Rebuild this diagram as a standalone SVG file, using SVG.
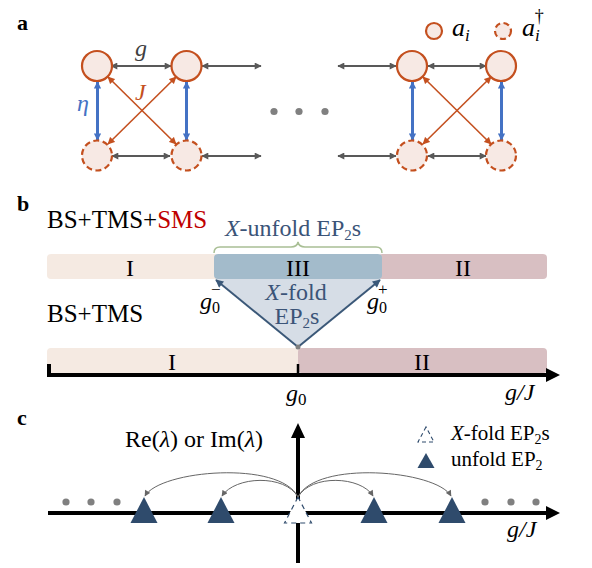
<svg xmlns="http://www.w3.org/2000/svg" width="592" height="568" viewBox="0 0 592 568">
<style>
text{font-family:"Liberation Serif","Times New Roman",serif;}
.lbl{font-size:22px;font-weight:bold;fill:#000;}
.nd{fill:#F7E9E4;stroke:#C4501F;stroke-width:2.2;}
.ndd{fill:#F7E9E4;stroke:#C4501F;stroke-width:2.2;stroke-dasharray:6 3.5;}
.gl{stroke:#595959;stroke-width:2;fill:none;marker-start:url(#ag);marker-end:url(#ag);}
.bl{stroke:#4472C4;stroke-width:3;fill:none;marker-start:url(#ab);marker-end:url(#ab);}
.ol{stroke:#C4501F;stroke-width:1.6;fill:none;marker-start:url(#ao);marker-end:url(#ao);}
.t24{font-size:24px;}
.dk{fill:#3B5478;}
.dot{fill:#808080;}
.tri{fill:#2F4B6C;}
.arc{stroke:#666;stroke-width:1;fill:none;marker-end:url(#aa);}
</style>
<defs>
<marker id="ag" viewBox="0 0 10 10" refX="9" refY="5" markerWidth="4" markerHeight="3.5" orient="auto-start-reverse"><path d="M0,0 L10,5 L0,10 z" fill="#595959"/></marker>
<marker id="ab" viewBox="0 0 10 10" refX="9" refY="5" markerWidth="2.6" markerHeight="2.4" orient="auto-start-reverse"><path d="M0,0 L10,5 L0,10 z" fill="#4472C4"/></marker>
<marker id="ao" viewBox="0 0 10 10" refX="9" refY="5" markerWidth="5" markerHeight="4.5" orient="auto-start-reverse"><path d="M0,0 L10,5 L0,10 z" fill="#C4501F"/></marker>
<marker id="ad" viewBox="0 0 10 10" refX="9" refY="5" markerWidth="4.5" markerHeight="4" orient="auto-start-reverse"><path d="M0,0 L10,5 L0,10 z" fill="#3B5878"/></marker>
<marker id="aa" viewBox="0 0 10 10" refX="9" refY="5" markerWidth="7" markerHeight="6" orient="auto" markerUnits="userSpaceOnUse"><path d="M0,0 L10,5 L0,10 z" fill="#666"/></marker>
</defs>

<!-- Panel a -->
<text class="lbl" x="17" y="30">a</text>
<g id="legend-a">
  <circle cx="434" cy="31" r="8" class="nd" stroke-width="1.8"/>
  <text x="452" y="36" font-size="26" font-style="italic">a<tspan font-size="17" dy="5">i</tspan></text>
  <circle cx="503" cy="31" r="8" class="ndd" stroke-width="1.8" stroke-dasharray="5 3"/>
  <text x="522" y="36" font-size="26" font-style="italic">a<tspan font-size="17" dy="5">i</tspan><tspan font-size="18" font-style="normal" dx="-5" dy="-19">†</tspan></text>
</g>
<g id="connectors-a">
  <line class="gl" x1="111" y1="66" x2="171" y2="66"/>
  <line class="gl" x1="202" y1="66" x2="261" y2="66"/>
  <line class="gl" x1="112" y1="156" x2="170" y2="156"/>
  <line class="gl" x1="202" y1="156" x2="261" y2="156"/>
  <line class="gl" x1="338" y1="66" x2="396" y2="66"/>
  <line class="gl" x1="428" y1="66" x2="486" y2="66"/>
  <line class="gl" x1="338" y1="156" x2="396" y2="156"/>
  <line class="gl" x1="428" y1="156" x2="486" y2="156"/>
  <line class="bl" x1="97.5" y1="82" x2="97.5" y2="140"/>
  <line class="bl" x1="186.5" y1="82" x2="186.5" y2="140"/>
  <line class="bl" x1="412.5" y1="82" x2="412.5" y2="140"/>
  <line class="bl" x1="501.5" y1="82" x2="501.5" y2="140"/>
  <line class="ol" x1="108" y1="77" x2="176" y2="144"/>
  <line class="ol" x1="108" y1="144" x2="176" y2="77"/>
  <line class="ol" x1="423" y1="77" x2="491" y2="144"/>
  <line class="ol" x1="423" y1="144" x2="491" y2="77"/>
</g>
<g id="node-a1-top"><circle cx="97" cy="66" r="15" class="nd"/></g>
<g id="node-a2-top"><circle cx="186.5" cy="66" r="15" class="nd"/></g>
<g id="node-a1-bot"><circle cx="97" cy="155.5" r="15" class="ndd"/></g>
<g id="node-a2-bot"><circle cx="186.5" cy="155.5" r="15" class="ndd"/></g>
<g id="node-aN1-top"><circle cx="412" cy="66" r="15" class="nd"/></g>
<g id="node-aN2-top"><circle cx="501" cy="66" r="15" class="nd"/></g>
<g id="node-aN1-bot"><circle cx="412" cy="155.5" r="15" class="ndd"/></g>
<g id="node-aN2-bot"><circle cx="501" cy="155.5" r="15" class="ndd"/></g>
<g id="labels-a">
  <text x="135" y="56" font-size="24" font-style="italic" fill="#404040">g</text>
  <text x="135" y="100" font-size="24" font-style="italic" fill="#C4501F">J</text>
  <text x="77" y="111" font-size="24" font-style="italic" fill="#4472C4">η</text>
  <circle cx="274" cy="111.5" r="3.6" class="dot"/>
  <circle cx="299" cy="111.5" r="3.6" class="dot"/>
  <circle cx="325" cy="111.5" r="3.6" class="dot"/>
</g>

<!-- Panel b -->
<text class="lbl" x="17" y="211">b</text>
<text x="47" y="228" font-size="25">BS+TMS+<tspan fill="#C00000">SMS</tspan></text>
<text x="293" y="236" class="t24 dk" text-anchor="middle"><tspan font-style="italic">X</tspan>-unfold EP<tspan font-size="15" dy="4">2</tspan><tspan dy="-4">s</tspan></text>
<path d="M214,253 Q214,247 220,247 L291,247 Q297,247 298,242 Q299,247 305,247 L376,247 Q382,247 382,253" stroke="#A9BF95" stroke-width="1.5" fill="none"/>
<g id="bar-top-I"><rect x="47" y="254" width="172" height="25" rx="4" fill="#F5EAE2"/><text x="130" y="276" class="t24" text-anchor="middle">I</text></g>
<g id="bar-top-II"><rect x="378" y="254" width="169" height="25" rx="4" fill="#D8BFC2"/><text x="463" y="276" class="t24" text-anchor="middle">II</text></g>
<g id="bar-top-III"><rect x="214" y="254" width="168" height="25" rx="4" fill="#A3BBCB"/><text x="298" y="276" class="t24" text-anchor="middle">III</text></g>
<g id="triangle-b">
  <polygon points="216,279 380,279 298,347" fill="#D6DDE6"/>
  <line x1="298" y1="347" x2="216" y2="280" stroke="#3B5878" stroke-width="2" marker-end="url(#ad)"/>
  <line x1="298" y1="347" x2="380" y2="280" stroke="#3B5878" stroke-width="2" marker-end="url(#ad)"/>
  <text x="296" y="300" class="t24 dk" text-anchor="middle"><tspan font-style="italic">X</tspan>-fold</text>
  <text x="297" y="324" class="t24 dk" text-anchor="middle">EP<tspan font-size="15" dy="4">2</tspan><tspan dy="-4">s</tspan></text>
</g>
<text x="47" y="322" font-size="25">BS+TMS</text>
<text x="200" y="309" class="t24" font-style="italic">g<tspan font-size="16" font-style="normal" dy="4">0</tspan><tspan font-size="17" font-style="normal" dx="-9" dy="-18">−</tspan></text>
<text x="367" y="309" class="t24" font-style="italic">g<tspan font-size="16" font-style="normal" dy="4">0</tspan><tspan font-size="17" font-style="normal" dx="-9" dy="-18">+</tspan></text>
<g id="bar-bot-I"><rect x="47" y="348" width="253" height="25" rx="4" fill="#F5EAE2"/><text x="172" y="370" class="t24" text-anchor="middle">I</text></g>
<g id="bar-bot-II"><rect x="298" y="348" width="249" height="25" rx="4" fill="#D8BFC2"/><text x="422" y="370" class="t24" text-anchor="middle">II</text></g>
<circle cx="298" cy="347" r="2.5" fill="#7F7F7F"/>
<g id="axis-b">
  <line x1="47" y1="375" x2="548" y2="375" stroke="#000" stroke-width="4"/>
  <line x1="49" y1="364" x2="49" y2="376" stroke="#000" stroke-width="4"/>
  <line x1="298" y1="364" x2="298" y2="376" stroke="#000" stroke-width="2.5"/>
  <polygon points="546,368 560,375 546,382" fill="#000"/>
</g>
<text x="286" y="401" class="t24" font-style="italic">g<tspan font-size="17" font-style="normal" dy="4">0</tspan></text>
<text x="505" y="400" class="t24" font-style="italic">g/J</text>

<!-- Panel c -->
<text class="lbl" x="17" y="425">c</text>
<text x="125" y="447" class="t24">Re(<tspan font-style="italic">λ</tspan>) or Im(<tspan font-style="italic">λ</tspan>)</text>
<g id="axes-c">
  <line x1="48" y1="513" x2="548" y2="513" stroke="#000" stroke-width="4"/>
  <polygon points="546,506 560,513 546,520" fill="#000"/>
  <line x1="298" y1="563" x2="298" y2="436" stroke="#000" stroke-width="4"/>
  <polygon points="291,438 298,423 305,438" fill="#000"/>
</g>
<g id="dots-c">
  <circle cx="66" cy="502" r="3.6" class="dot"/><circle cx="91" cy="502" r="3.6" class="dot"/><circle cx="117" cy="502" r="3.6" class="dot"/>
  <circle cx="485" cy="502" r="3.6" class="dot"/><circle cx="511" cy="502" r="3.6" class="dot"/><circle cx="536" cy="502" r="3.6" class="dot"/>
</g>
<g id="ep-tri-1"><polygon class="tri" points="144,497 130.5,523 157.5,523"/></g>
<g id="ep-tri-2"><polygon class="tri" points="221,497 207.5,523 234.5,523"/></g>
<g id="ep-tri-3"><polygon class="tri" points="374,497 360.5,523 387.5,523"/></g>
<g id="ep-tri-4"><polygon class="tri" points="452,497 438.5,523 465.5,523"/></g>
<g id="ep-tri-center"><polygon points="298,497 284.5,523 311.5,523" fill="#fff" stroke="#2F4B6C" stroke-width="1.2" stroke-dasharray="5 4"/></g>
<g id="connectors-c">
  <path class="arc" d="M298,497 C280,460 160,470 145,496"/>
  <path class="arc" d="M298,497 C285,474 235,476 222,496"/>
  <path class="arc" d="M298,497 C311,474 361,476 373,496"/>
  <path class="arc" d="M298,497 C316,460 436,470 451,496"/>
</g>
<g id="legend-c">
  <polygon points="426,427 418,442 434,442" fill="#fff" stroke="#2F4B6C" stroke-width="1.1" stroke-dasharray="4 3"/>
  <text x="451" y="440" font-size="21"><tspan font-style="italic">X</tspan>-fold EP<tspan font-size="14" dy="4">2</tspan><tspan dy="-4">s</tspan></text>
  <polygon class="tri" points="426,453 417.5,468 434.5,468"/>
  <text x="451" y="466" font-size="21">unfold EP<tspan font-size="14" dy="4">2</tspan></text>
</g>
<text x="507" y="537" class="t24" font-style="italic">g/J</text>
</svg>
